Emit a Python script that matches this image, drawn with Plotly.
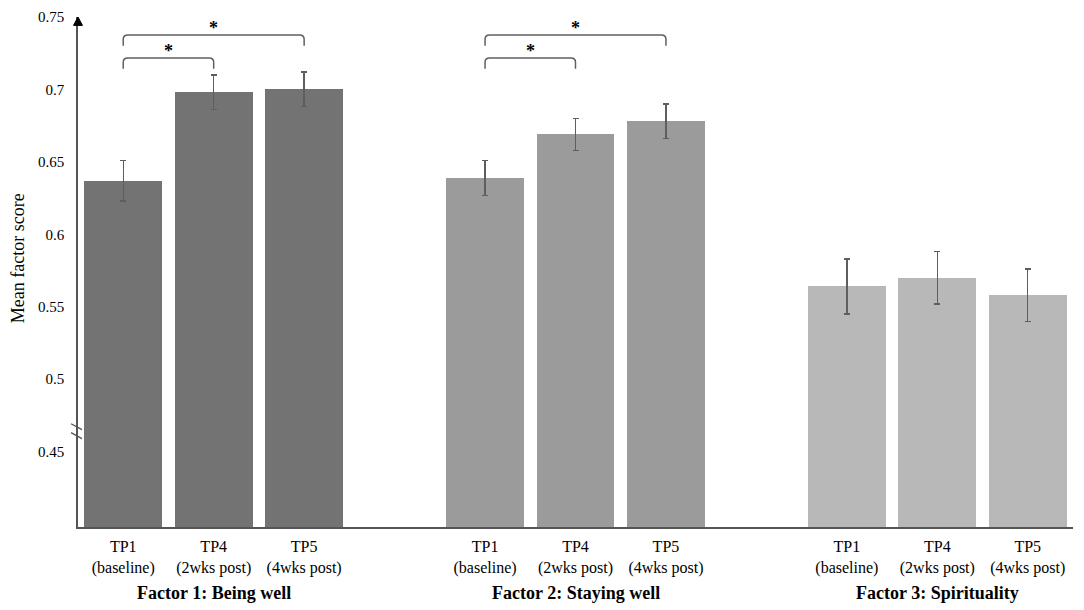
import plotly.graph_objects as go

# ---- data ----
groups = ["Factor 1: Being well", "Factor 2: Staying well", "Factor 3: Spirituality"]
timepoints = ["TP1<br>(baseline)", "TP4<br>(2wks post)", "TP5<br>(4wks post)"]
f1_means = [0.637, 0.698, 0.700]
f1_err = [0.014, 0.012, 0.012]
f2_means = [0.639, 0.669, 0.678]
f2_err = [0.012, 0.011, 0.012]
f3_means = [0.564, 0.570, 0.558]
f3_err = [0.019, 0.018, 0.018]
group_colors = ["#737373", "#9b9b9b", "#b8b8b8"]
y_ticks = [0.45, 0.5, 0.55, 0.6, 0.65, 0.7, 0.75]
y_ticktext = ["0.45", "0.5", "0.55", "0.6", "0.65", "0.7", "0.75"]
# significant comparisons: (group index, from tp, to tp, bracket level)
sig_pairs = [(0, 0, 1, 0.7217), (0, 0, 2, 0.7376), (1, 0, 1, 0.7217), (1, 0, 2, 0.7376)]

means = [f1_means, f2_means, f3_means]
errs = [f1_err, f2_err, f3_err]

FONT = "Liberation Serif, Times New Roman, serif"
Y_MIN, Y_MAX = 0.398, 0.75

fig = go.Figure()
xs_all, texts_all = [], []
for g, (m, e) in enumerate(zip(means, errs)):
    xs = [g * 4 + i for i in range(len(m))]
    xs_all += xs
    texts_all += timepoints
    fig.add_trace(go.Bar(
        x=xs, y=m, width=0.862, name=groups[g],
        marker=dict(color=group_colors[g], line=dict(width=0)),
        error_y=dict(type="data", array=e, visible=True, color="#5e5e5e",
                     thickness=1.3, width=3),
        showlegend=False,
    ))

shapes = []
annotations = []
rx, ry = 0.05, 0.003
for g, i, j, lvl in sig_pairs:
    x0, x1 = g * 4 + i, g * 4 + j
    yb = lvl - 0.0075
    path = (f"M {x0} {yb} L {x0} {lvl - ry} Q {x0} {lvl} {x0 + rx} {lvl} "
            f"L {x1 - rx} {lvl} Q {x1} {lvl} {x1} {lvl - ry} L {x1} {yb}")
    shapes.append(dict(type="path", path=path, xref="x", yref="y",
                       line=dict(color="#606060", width=1.5)))
    annotations.append(dict(x=(x0 + x1) / 2, y=lvl, xref="x", yref="y",
                            text="<b>*</b>", showarrow=False, yanchor="bottom",
                            yshift=-5, font=dict(family=FONT, size=18, color="black")))

# axis arrow at top of y-axis
shapes.append(dict(type="path", xref="paper", yref="y",
                   path=f"M -0.0045 {Y_MAX - 0.0058} L 0 {Y_MAX} L 0.0045 {Y_MAX - 0.0058} Z",
                   fillcolor="black", line=dict(color="black", width=1)))
# axis break marks
for yb0 in (0.4693, 0.4631):
    shapes.append(dict(type="line", xref="paper", yref="y",
                       x0=-0.007, x1=0.004, y0=yb0, y1=yb0 - 0.0041,
                       line=dict(color="#555555", width=1.3)))

for g, name in enumerate(groups):
    annotations.append(dict(x=g * 4 + 1, y=0, xref="x", yref="paper", text=f"<b>{name}</b>",
                            showarrow=False, yanchor="middle", yshift=-66,
                            font=dict(family=FONT, size=18, color="black")))
annotations.append(dict(x=0, y=0.527, xref="paper", yref="paper", text="Mean factor score",
                        showarrow=False, textangle=-90, xanchor="center", yanchor="middle",
                        xshift=-60, font=dict(family=FONT, size=18, color="black")))

# page body has an 8px default margin, so the figure is sized to fit the window
fig.update_layout(
    width=1076, height=602,
    margin=dict(l=70, r=11, t=9, b=83),
    paper_bgcolor="white", plot_bgcolor="white",
    font=dict(family=FONT, size=16, color="black"),
    bargap=0,
    xaxis=dict(range=[-0.5, 10.5], tickmode="array", tickvals=xs_all, ticktext=texts_all,
               showgrid=False, zeroline=False, showline=True, linecolor="#555555",
               linewidth=1.5, ticks="", automargin=False, ticklabelstandoff=4,
               tickfont=dict(family=FONT, size=16, color="black")),
    yaxis=dict(range=[Y_MIN, Y_MAX], tickmode="array", tickvals=y_ticks, ticktext=y_ticktext,
               showgrid=False, zeroline=False, showline=True, linecolor="#555555",
               linewidth=1.5, ticks="", ticklabelstandoff=9, automargin=False,
               tickfont=dict(family=FONT, size=15, color="black")),
    shapes=shapes, annotations=annotations,
)

fig.write_html("out.html")
